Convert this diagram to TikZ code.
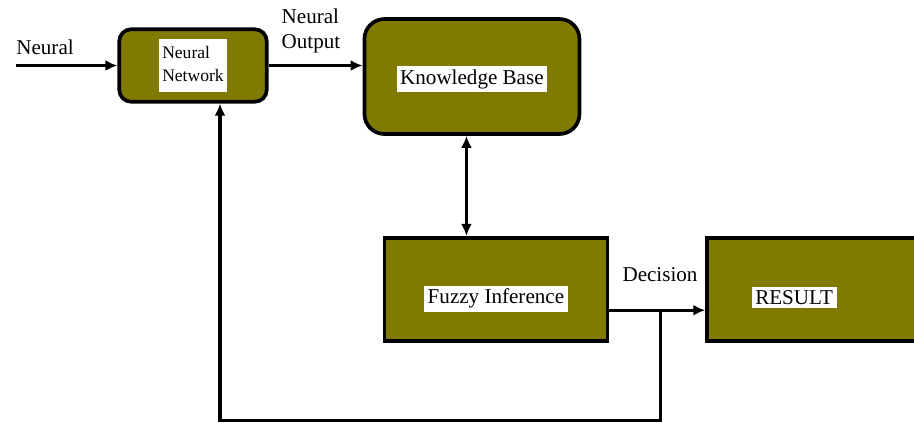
\documentclass[tikz,border=0pt]{standalone}
\usepackage{fontspec}
\setmainfont{Liberation Serif}
\usepackage{tikz}
\usetikzlibrary{arrows.meta,positioning}
\definecolor{olivefill}{RGB}{128,123,0}
\tikzstyle{block} = [rectangle, draw, line width=2.1pt, fill=olivefill, inner sep=0pt, font=\fontsize{12}{14}\selectfont]
\tikzstyle{roundblock} = [block, rounded corners=0.4cm]
\tikzstyle{line} = [draw, line width=1.8pt, -{Latex[length=0.24cm,width=0.22cm]}]
\tikzstyle{tag} = [font=\fontsize{12}{14}\selectfont, inner sep=0pt, align=left]
\newcommand{\wbox}[1]{{\setlength{\fboxsep}{2pt}\colorbox{white}{#1}}}

\begin{document}
\begin{tikzpicture}[node distance = 2cm, auto]
    \useasboundingbox (0,0) rectangle (18.28,-8.56);
    \node [roundblock, rounded corners=0.24cm, minimum width=2.95cm, minimum height=1.45cm] (neuralNet) at (3.86,-1.31)
        {\wbox{\fontsize{10}{13}\selectfont\begin{tabular}{@{}l@{}}Neural\\Network\end{tabular}}};
    \node [roundblock, minimum width=4.3cm, minimum height=2.3cm, right=1.88cm of neuralNet, yshift=-0.22cm] (knowledge) {\wbox{Knowledge Base}\rule{0pt}{0.47cm}};
    \node [block, minimum width=4.46cm, minimum height=2.06cm, below=2.0cm of knowledge, xshift=0.48cm] (fuzzy) {\wbox{Fuzzy Inference}\rule{0pt}{0.75cm}};
    \node [block, minimum width=4.6cm, minimum height=2.06cm, right=1.92cm of fuzzy] (result) {\wbox{RESULT}\rule{0pt}{0.67cm}\hspace*{1.12cm}};
    \coordinate (input) at (0.32,-1.31);
    \coordinate (split) at ([xshift=1.02cm,yshift=-0.42cm]fuzzy.east);
    \coordinate (fbEnd) at ([xshift=0.54cm]neuralNet.south);
    \node [tag, above right=0.2cm and 0cm of input] (inLabel) {Neural};
    \node [tag] (outLabel) at (6.22,-0.62) {Neural\\Output};
    \node [tag] (decLabel) at (13.2,-5.5) {Decision};
    \path [line] (input) -- (neuralNet.west);
    \path [line] (neuralNet.east) -- (knowledge.west |- neuralNet.east);
    \path [line, {Latex[length=0.24cm,width=0.22cm]}-{Latex[length=0.24cm,width=0.22cm]}] ([xshift=-0.11cm]knowledge.south) -- ([xshift=-0.11cm]knowledge.south |- fuzzy.north);
    \path [line] ([yshift=-0.42cm]fuzzy.east) -- ([yshift=-0.42cm]result.west);
    \path [line] (split) -- ++(0,-2.2) -| (fbEnd);
  \end{tikzpicture}
\end{document}
